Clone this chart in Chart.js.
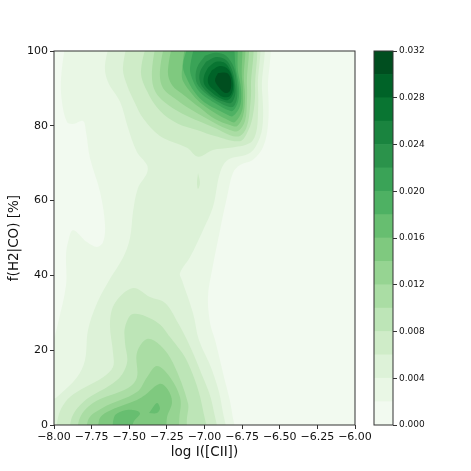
<!DOCTYPE html>
<html>
<head>
<meta charset="utf-8">
<style>
  html, body { margin: 0; padding: 0; background: #fff; }
  canvas { position: absolute; top: 0; }
</style>
<script src="https://cdn.jsdelivr.net/npm/chart.js@4"></script>
</head>
<body>
<canvas id="contour" width="471" height="471" style="left:0"></canvas>
<canvas id="colorbar" width="111" height="471" style="left:360px"></canvas>
<script>
// Greens, one colour per 0.002 band (taken at the middle of each band)
var bandColors = ['#f2faf0', '#e9f7e5', '#ddf2d8', '#cfecc8', '#bde5b7', '#aadda4', '#96d492', '#7fc97f',
  '#67be70', '#4eb163', '#3aa357', '#2b934b', '#1a843f', '#097532', '#006328', '#004e1f'];
var bandSizes = [0.002, 0.002, 0.002, 0.002, 0.002, 0.002, 0.002, 0.002,
  0.002, 0.002, 0.002, 0.002, 0.002, 0.002, 0.002, 0.002];
var xTicks = [-8, -7.75, -7.5, -7.25, -7, -6.75, -6.5, -6.25, -6];
var yTicks = [0, 20, 40, 60, 80, 100];
var barTicks = [0, 0.004, 0.008, 0.012, 0.016, 0.02, 0.024, 0.028, 0.032];

// contour outlines, [log I, f]; ends run past the axes and get clipped
var level0 = [[-8.06, -6], [-5.94, -6], [-5.94, 106], [-8.06, 106]];
var level1 = [[-7.914, 105], [-7.953, 92.8], [-7.947, 86.4], [-7.914, 81.0], [-7.874, 80.5], [-7.807, 81.3], [-7.787, 78.3], [-7.761, 71.4], [-7.694, 62.3], [-7.661, 53.5], [-7.674, 48.9], [-7.714, 47.6], [-7.781, 48.9], [-7.874, 52.1], [-7.907, 48.9], [-7.920, 45.5], [-7.920, 37.4], [-7.973, 27.3], [-8, 23.3], [-8.06, 18], [-8.06, -6], [-6.817, -6], [-6.817, 3.2], [-6.877, 13.9], [-6.930, 22.7], [-6.963, 27.3], [-6.977, 34.2], [-6.950, 41.4], [-6.897, 52.1], [-6.850, 61.0], [-6.811, 67.4], [-6.764, 69.5], [-6.678, 70.9], [-6.611, 74.3], [-6.578, 80.2], [-6.578, 89.6], [-6.618, 105]];
var level2 = [[-7.608, 105], [-7.661, 96.3], [-7.641, 91.7], [-7.561, 86.4], [-7.508, 79.4], [-7.449, 73.0], [-7.382, 69.5], [-7.382, 67.4], [-7.442, 63.4], [-7.475, 57.0], [-7.495, 50.0], [-7.542, 44.7], [-7.641, 38.2], [-7.714, 32.6], [-7.774, 25.4], [-7.794, 17.4], [-7.847, 12.8], [-7.980, 7.5], [-8, 7.0], [-8.06, 5], [-8.06, -6], [-6.884, -6], [-6.884, 4.8], [-6.950, 14.7], [-7.037, 22.7], [-7.076, 29.9], [-7.150, 38.8], [-7.163, 40.6], [-7.096, 44.9], [-7.010, 52.1], [-6.944, 58.3], [-6.897, 67.4], [-6.844, 70.9], [-6.698, 72.7], [-6.631, 77.0], [-6.611, 82.1], [-6.618, 89.6], [-6.651, 105]];
var level3Top = [[-7.495, 105], [-7.542, 95.5], [-7.515, 90.9], [-7.462, 86.1], [-7.409, 82.1], [-7.296, 77.3], [-7.116, 74.1], [-7.043, 71.7], [-6.944, 73.5], [-6.831, 74.1], [-6.698, 75.4], [-6.658, 78.1], [-6.645, 82.9], [-6.645, 90.1], [-6.678, 105]];
var level3Bottom = [[-7.980, -6], [-7.973, 2.1], [-7.894, 7.5], [-7.674, 12.8], [-7.608, 15.5], [-7.608, 19.3], [-7.628, 27.3], [-7.595, 32.6], [-7.475, 36.6], [-7.362, 34.2], [-7.262, 32.6], [-7.176, 27.3], [-7.116, 22.7], [-7.030, 14.7], [-6.944, 4.8], [-6.944, -6]];
var level3Spot = [[-7.043, 67.4], [-7.030, 64.7], [-7.043, 63.1], [-7.050, 64.7]];
var level4Top = [[-7.362, 105], [-7.422, 94.7], [-7.382, 89.3], [-7.296, 84.0], [-7.183, 80.7], [-7.050, 78.9], [-6.930, 77.3], [-6.764, 75.9], [-6.711, 78.6], [-6.678, 82.9], [-6.664, 90.1], [-6.698, 105]];
var level4Bottom = [[-7.887, -6], [-7.887, 1.3], [-7.807, 6.1], [-7.581, 12.0], [-7.515, 16.6], [-7.528, 21.9], [-7.528, 26.2], [-7.475, 29.7], [-7.316, 27.5], [-7.229, 23.5], [-7.110, 16.6], [-7.010, 4.0], [-7.010, -6]];
var level5Top = [[-7.309, 105], [-7.349, 94.7], [-7.329, 89.3], [-7.243, 85.6], [-7.116, 82.6], [-6.930, 79.4], [-6.831, 77.5], [-6.764, 77.3], [-6.718, 79.9], [-6.698, 84.8], [-6.691, 90.1], [-6.718, 105]];
var level5Bottom = [[-7.834, -6], [-7.834, 1.3], [-7.741, 5.9], [-7.508, 9.9], [-7.449, 12.8], [-7.449, 19.3], [-7.382, 23.0], [-7.296, 21.4], [-7.209, 16.6], [-7.110, 5.9], [-7.116, 2.1], [-7.150, -6]];
var level6Top = [[-7.249, 105], [-7.296, 94.7], [-7.276, 90.1], [-7.183, 86.9], [-7.076, 84.0], [-6.930, 80.7], [-6.831, 78.9], [-6.777, 78.6], [-6.731, 81.3], [-6.718, 86.6], [-6.718, 90.9], [-6.744, 105]];
var level6Bottom = [[-7.774, -6], [-7.774, 1.3], [-7.681, 4.5], [-7.449, 8.8], [-7.382, 12.8], [-7.316, 15.8], [-7.229, 12.8], [-7.163, 7.5], [-7.163, 3.5], [-7.220, -6]];
var level7Top = [[-7.196, 105], [-7.243, 94.7], [-7.216, 90.9], [-7.130, 88.0], [-7.030, 84.8], [-6.930, 81.8], [-6.831, 80.2], [-6.784, 79.9], [-6.744, 82.6], [-6.731, 87.4], [-6.738, 92.0], [-6.764, 105]];
var level7Bottom = [[-7.701, -6], [-7.701, 1.3], [-7.648, 3.5], [-7.449, 6.7], [-7.395, 8.0], [-7.296, 11.0], [-7.243, 9.4], [-7.216, 6.1], [-7.249, 2.1], [-7.280, -6]];
var level8Top = [[-7.116, 105], [-7.150, 94.7], [-7.143, 92.0], [-7.076, 88.2], [-7.010, 85.6], [-6.930, 83.4], [-6.831, 81.3], [-6.797, 81.0], [-6.751, 84.0], [-6.744, 88.2], [-6.751, 92.8], [-6.784, 105]];
var level8BottomA = [[-7.601, -6], [-7.601, 2.1], [-7.515, 4.0], [-7.429, 3.2], [-7.475, 0.5], [-7.500, -6]];
var level8BottomB = [[-7.369, 3.2], [-7.316, 5.9], [-7.296, 4.5], [-7.316, 3.2]];
var level9 = [[-7.076, 105], [-7.143, 96.3], [-7.110, 92.0], [-7.050, 88.2], [-6.983, 85.8], [-6.910, 84.2], [-6.844, 82.9], [-6.811, 82.6], [-6.764, 85.3], [-6.757, 89.6], [-6.777, 94.4], [-6.811, 105]];
var level10 = [[-7.043, 105], [-7.096, 95.5], [-7.076, 92.0], [-7.030, 89.0], [-6.963, 86.9], [-6.897, 85.3], [-6.844, 84.2], [-6.811, 84.0], [-6.777, 86.4], [-6.771, 90.1], [-6.791, 94.9], [-6.837, 105]];
var level11 = [[-6.997, 98.7], [-7.050, 95.5], [-7.056, 92.0], [-7.017, 89.6], [-6.950, 87.4], [-6.884, 85.8], [-6.831, 85.0], [-6.804, 85.3], [-6.784, 87.4], [-6.784, 90.9], [-6.804, 95.5], [-6.857, 98.7], [-6.924, 99.5]];
var level12 = [[-6.990, 97.1], [-7.030, 94.4], [-7.030, 91.7], [-6.997, 89.6], [-6.930, 87.4], [-6.870, 86.4], [-6.824, 86.1], [-6.797, 88.2], [-6.797, 91.2], [-6.817, 94.9], [-6.857, 97.6], [-6.924, 98.4]];
var level13 = [[-6.977, 95.5], [-7.003, 93.3], [-7.003, 91.2], [-6.963, 89.3], [-6.897, 87.4], [-6.844, 86.9], [-6.811, 88.5], [-6.804, 91.2], [-6.824, 94.4], [-6.864, 96.8], [-6.924, 97.1]];
var level14 = [[-6.950, 94.9], [-6.977, 92.8], [-6.970, 90.9], [-6.930, 89.3], [-6.877, 87.7], [-6.831, 88.0], [-6.811, 90.1], [-6.817, 92.8], [-6.844, 95.2], [-6.897, 96.0]];
var level15 = [[-6.910, 94.1], [-6.850, 94.1], [-6.824, 92.2], [-6.831, 89.3], [-6.864, 88.8], [-6.910, 90.6], [-6.930, 92.2]];

// painted from the lowest band up: [outline, band index]
var outlines = [
  [level0, 0], [level1, 1], [level2, 2],
  [level3Top, 3], [level3Bottom, 3], [level3Spot, 3],
  [level4Top, 4], [level4Bottom, 4], [level5Top, 5], [level5Bottom, 5],
  [level6Top, 6], [level6Bottom, 6], [level7Top, 7], [level7Bottom, 7],
  [level8Top, 8], [level8BottomA, 8], [level8BottomB, 8],
  [level9, 9], [level10, 10], [level11, 11], [level12, 12], [level13, 13], [level14, 14], [level15, 15]
];

var FONT = '"DejaVu Sans", sans-serif';
var INK = '#111';

function fixWidth(w) { return function (axis) { axis.width = w; }; }
function fixHeight(h) { return function (axis) { axis.height = h; }; }

// the frame round the plot, matplotlib style
var framePlugin = {
  id: 'frame',
  afterDraw: function (chart) {
    var a = chart.chartArea, ctx = chart.ctx;
    ctx.save();
    ctx.strokeStyle = '#333';
    ctx.lineWidth = 1;
    ctx.strokeRect(a.left, a.top, a.right - a.left, a.bottom - a.top);
    ctx.restore();
  }
};

var contourSets = outlines.map(function (o, i) {
  var pts = o[0].map(function (p) { return { x: p[0], y: p[1] }; });
  pts.push(pts[0]);
  return {
    data: pts,
    showLine: true,
    fill: 'shape',
    backgroundColor: bandColors[o[1]],
    borderWidth: 0,
    pointRadius: 0,
    tension: o[0] === level0 ? 0 : 0.35,
    capBezierPoints: false,
    order: outlines.length - i
  };
});

new Chart(document.getElementById('contour'), {
  type: 'scatter',
  data: { datasets: contourSets },
  options: {
    responsive: false,
    animation: false,
    events: [],
    layout: { padding: { left: 0, right: 116, top: 51, bottom: 0 } },
    plugins: { legend: { display: false }, tooltip: { enabled: false } },
    scales: {
      x: {
        type: 'linear', min: -8, max: -6,
        afterFit: fixHeight(46),
        afterBuildTicks: function (axis) { axis.ticks = xTicks.map(function (v) { return { value: v }; }); },
        grid: { drawOnChartArea: false, tickLength: 4, tickColor: '#333', tickWidth: 1 },
        border: { display: false },
        ticks: {
          color: INK, padding: 2, maxRotation: 0, autoSkip: false, font: { family: FONT, size: 11 },
          callback: function (v) { return v.toFixed(2).replace('-', '\u2212'); }
        },
        title: { display: true, text: 'log I([CII])', color: INK, font: { family: FONT, size: 13.5 }, padding: { top: 2, bottom: 10 } }
      },
      y: {
        type: 'linear', min: 0, max: 100,
        afterFit: fixWidth(54),
        afterBuildTicks: function (axis) { axis.ticks = yTicks.map(function (v) { return { value: v }; }); },
        grid: { drawOnChartArea: false, tickLength: 4, tickColor: '#333', tickWidth: 1 },
        border: { display: false },
        ticks: { color: INK, padding: 2, font: { family: FONT, size: 11 } },
        title: { display: true, text: 'f(H2|CO) [%]', color: INK, font: { family: FONT, size: 13.5 }, padding: { top: 6, bottom: 2 } }
      }
    }
  },
  plugins: [framePlugin]
});

new Chart(document.getElementById('colorbar'), {
  type: 'bar',
  data: {
    labels: [''],
    datasets: bandSizes.map(function (s, i) {
      return { data: [s], backgroundColor: bandColors[i], borderWidth: 0, stack: 'bar', barPercentage: 1, categoryPercentage: 1 };
    })
  },
  options: {
    responsive: false,
    animation: false,
    events: [],
    layout: { padding: { left: 14, right: 0, top: 51, bottom: 46 } },
    plugins: { legend: { display: false }, tooltip: { enabled: false } },
    scales: {
      x: { display: false, stacked: true },
      y: {
        stacked: true, position: 'right', min: 0, max: 0.032,
        afterFit: fixWidth(78),
        afterBuildTicks: function (axis) { axis.ticks = barTicks.map(function (v) { return { value: v }; }); },
        grid: { drawOnChartArea: false, tickLength: 4, tickColor: '#333', tickWidth: 1 },
        border: { display: false },
        ticks: {
          color: INK, padding: 2, font: { family: FONT, size: 9 },
          callback: function (v) { return v.toFixed(3); }
        }
      }
    }
  },
  plugins: [framePlugin]
});
</script>
</body>
</html>
